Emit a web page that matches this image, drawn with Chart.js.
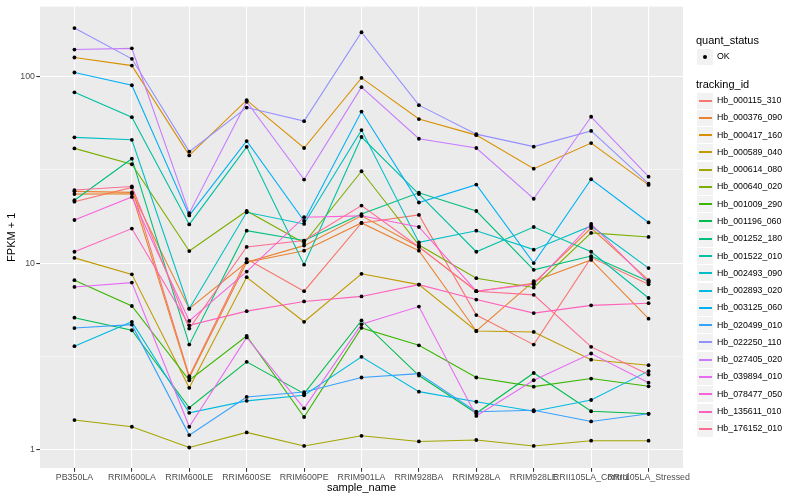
<!DOCTYPE html>
<html>
<head>
<meta charset="utf-8">
<script src="https://cdn.jsdelivr.net/npm/chart.js@4.4.0/dist/chart.umd.min.js"></script>
<style>
  body { margin: 0; background: #fff; }
  #wrap { position: relative; width: 800px; height: 500px; font-family: "Liberation Sans", Arial, sans-serif; }
  #legend div { position: absolute; white-space: nowrap; }
</style>
</head>
<body>
<div id="wrap">
  <canvas id="chart" width="800" height="500"></canvas>
  <div id="legend"></div>
</div>
<script>
const sampleNames = ["PB350LA", "RRIM600LA", "RRIM600LE", "RRIM600SE", "RRIM600PE", "RRIM901LA",
  "RRIM928BA", "RRIM928LA", "RRIM928LE", "RRII105LA_Control", "RRII105LA_Stressed"];

const yTickValues = [1, 3.1623, 10, 31.623, 100];
const yTickLabels = ["1", "", "10", "", "100"];

// FPKM + 1 per sample
const hb_000115_310 = [21.3, 25.4, 2.48, 10.5, 7.07, 16.4, 18.1, 5.27, 3.66, 10.7, 7.7];
const hb_000376_090 = [24.2, 23.9, 5.7, 10.1, 11.65, 16.4, 11.65, 4.33, 8.0, 10.4, 5.04];
const hb_000376_090b = [23.4, 23.5, 2.43, 10.1, 12.4, 17.9, 12.2, 7.07, 7.8, 15.4, 8.1];
const hb_000417_160 = [126, 114, 37.7, 74.5, 41.3, 98, 59, 48.4, 32, 43.9, 26.2];
const hb_000589_040 = [10.66, 8.7, 2.15, 8.4, 4.85, 8.76, 7.67, 4.33, 4.28, 3.04, 2.84];
const hb_000614_080 = [1.445, 1.33, 1.03, 1.24, 1.05, 1.19, 1.11, 1.13, 1.05, 1.12, 1.12];
const hb_000640_020 = [41.1, 33.8, 11.6, 19, 12.8, 31, 12.5, 8.3, 7.4, 14.5, 13.8];
const hb_001009_290 = [8.1, 5.89, 2.36, 4.07, 1.5, 4.5, 3.63, 2.44, 2.18, 2.41, 2.19];
const hb_001196_060 = [5.1, 4.37, 1.68, 2.96, 2.0, 4.93, 2.5, 1.57, 2.58, 1.61, 1.56];
const hb_001252_180 = [21.7, 36.2, 3.66, 14.9, 13.2, 18.3, 23.8, 19, 9.2, 10.9, 8.0];
const hb_001522_010 = [82, 60.4, 16.1, 41.9, 9.8, 47.3, 23.4, 11.5, 15.6, 11.5, 6.5];
const hb_002493_090 = [47.1, 45.7, 5.7, 18.7, 16.2, 51.5, 12.9, 14.9, 11.8, 15.8, 9.4];
const hb_002893_020 = [3.59, 4.85, 1.58, 1.83, 1.96, 3.15, 2.05, 1.81, 1.61, 1.85, 2.64];
const hb_003125_060 = [104.7, 89.5, 18, 45, 16.8, 64.7, 21.1, 26.3, 10, 28.1, 16.5];
const hb_020499_010 = [4.49, 4.68, 1.2, 1.92, 2.04, 2.44, 2.56, 1.6, 1.63, 1.42, 1.56];
const hb_022250_110 = [181, 124, 39.5, 68, 57.5, 172, 70, 49, 42, 51, 26.6];
const hb_027405_020 = [139, 141, 18.5, 73, 28, 87.4, 46.3, 41.3, 22.1, 60.7, 29];
const hb_039894_010 = [7.45, 7.86, 1.33, 4.0, 1.67, 4.7, 5.85, 1.52, 2.36, 3.28, 2.29];
const hb_078477_050 = [17, 22.6, 4.9, 9.0, 17.6, 17.9, 15.6, 7.07, 7.7, 16.2, 7.9];
const hb_135611_010 = [11.5, 15.3, 4.64, 5.53, 6.23, 6.63, 7.67, 6.38, 5.4, 5.94, 6.1];
const hb_176152_010 = [24.6, 25.7, 4.46, 12.2, 13.2, 20.3, 12.2, 7.07, 6.76, 3.56, 2.53];

// id, colour, values (the second 000376_090 line is not repeated in the legend)
const series = [
  ["Hb_000115_310", "#F8766D", hb_000115_310],
  ["Hb_000376_090", "#EA8331", hb_000376_090],
  ["Hb_000376_090", "#EA8331", hb_000376_090b],
  ["Hb_000417_160", "#D89000", hb_000417_160],
  ["Hb_000589_040", "#C09B00", hb_000589_040],
  ["Hb_000614_080", "#A3A500", hb_000614_080],
  ["Hb_000640_020", "#7CAE00", hb_000640_020],
  ["Hb_001009_290", "#39B600", hb_001009_290],
  ["Hb_001196_060", "#00BB4E", hb_001196_060],
  ["Hb_001252_180", "#00BF7D", hb_001252_180],
  ["Hb_001522_010", "#00C1A3", hb_001522_010],
  ["Hb_002493_090", "#00BFC4", hb_002493_090],
  ["Hb_002893_020", "#00BAE0", hb_002893_020],
  ["Hb_003125_060", "#00B0F6", hb_003125_060],
  ["Hb_020499_010", "#35A2FF", hb_020499_010],
  ["Hb_022250_110", "#9590FF", hb_022250_110],
  ["Hb_027405_020", "#C77CFF", hb_027405_020],
  ["Hb_039894_010", "#E76BF3", hb_039894_010],
  ["Hb_078477_050", "#FA62DB", hb_078477_050],
  ["Hb_135611_010", "#FF62BC", hb_135611_010],
  ["Hb_176152_010", "#FF6C91", hb_176152_010]
];

const FONT = '"Liberation Sans", Arial, sans-serif';

function toPoints(values) {
  return values.map((v, i) => ({x: i, y: v}))
}

let datasets = []
series.forEach((s, i) => {
  datasets.push({
    label: s[0],
    data: toPoints(s[2]),
    borderColor: s[1],
    borderWidth: 1.1,
    pointRadius: 0,
    fill: false,
    tension: 0,
    order: 100 - i   // later ids on top, like ggplot
  })
})
// points layer above all lines
series.forEach((s, i) => {
  datasets.push({
    label: s[0] + " OK",
    data: toPoints(s[2]),
    showLine: false,
    pointRadius: 1.9,
    pointBackgroundColor: "#000",
    pointBorderWidth: 0,
    order: 0
  })
})

const panelBg = {
  id: "panelBg",
  beforeDraw(chart) {
    const {ctx, chartArea: a} = chart;
    ctx.save();
    ctx.fillStyle = "#EBEBEB";
    ctx.fillRect(a.left, a.top, a.right - a.left, a.bottom - a.top);
    ctx.restore();
  }
};

new Chart(document.getElementById("chart"), {
  type: "line",
  data: {datasets: datasets},
  plugins: [panelBg],
  options: {
    responsive: false,
    animation: false,
    layout: {padding: {left: 0, top: 5, right: 117, bottom: 0}},
    plugins: {legend: {display: false}, tooltip: {enabled: false}},
    scales: {
      x: {
        type: "linear",
        min: -0.6,
        max: 10.6,
        afterBuildTicks: s => { s.ticks = sampleNames.map((_, i) => ({value: i})) },
        afterFit: s => { s.height = 32 },
        ticks: {
          autoSkip: false, maxRotation: 0, minRotation: 0, padding: 1,
          color: "#4D4D4D", font: {family: FONT, size: 8.8},
          callback: v => sampleNames[v]
        },
        grid: {color: "#FFFFFF", lineWidth: 1.07, tickColor: "#333333", tickLength: 3.7},
        border: {display: false},
        title: {display: true, text: "sample_name", color: "#000", font: {family: FONT, size: 11},
          padding: {top: 0, bottom: 5.4}}
      },
      y: {
        type: "logarithmic",
        min: 0.8,
        max: 236,
        afterBuildTicks: s => { s.ticks = yTickValues.map(v => ({value: v})) },
        afterFit: s => { s.width = 40 },
        ticks: {
          autoSkip: false, padding: 1.3,
          color: "#4D4D4D", font: {family: FONT, size: 8.8},
          callback: (v, i) => yTickLabels[i]
        },
        grid: {
          color: "#FFFFFF",
          lineWidth: c => yTickLabels[c.index] ? 1.07 : 0.53,
          tickColor: c => yTickLabels[c.index] ? "#333333" : "rgba(0,0,0,0)",
          tickLength: 3.7
        },
        border: {display: false},
        title: {display: true, text: "FPKM + 1", color: "#000", font: {family: FONT, size: 11},
          padding: {top: 5.4, bottom: 0}}
      }
    }
  }
});

// legend (two guides, as in the original)
const leg = document.getElementById("legend");
function place(html, css) {
  const d = document.createElement("div");
  d.style.cssText = css;
  d.innerHTML = html;
  leg.appendChild(d);
  return d;
}
const KEY = 17.28;
place("quant_status", "left:696px;top:34px;font-size:11px;line-height:13px;color:#000;");
place("", "left:697px;top:49px;width:16px;height:16px;background:#F2F2F2;");
place("", "left:703px;top:55px;width:4px;height:4px;border-radius:50%;background:#000;");
place("OK", `left:717px;top:48px;font-size:8.8px;line-height:${KEY}px;color:#000;`);
place("tracking_id", "left:696px;top:77.5px;font-size:11px;line-height:13px;color:#000;");

let seen = []
series.forEach(s => {
  if (seen.includes(s[0])) return;
  const top = 92 + seen.length * KEY;
  seen.push(s[0]);
  const boxTop = Math.round(top + 0.5);
  place("", `left:697px;top:${boxTop}px;width:16px;height:16px;background:#F2F2F2;`);
  place("", `left:699px;top:${boxTop + 7}px;width:13px;height:2px;background:${s[1]};`);
  place(s[0], `left:717px;top:${top}px;font-size:8.8px;line-height:${KEY}px;color:#000;`);
});
</script>
</body>
</html>
